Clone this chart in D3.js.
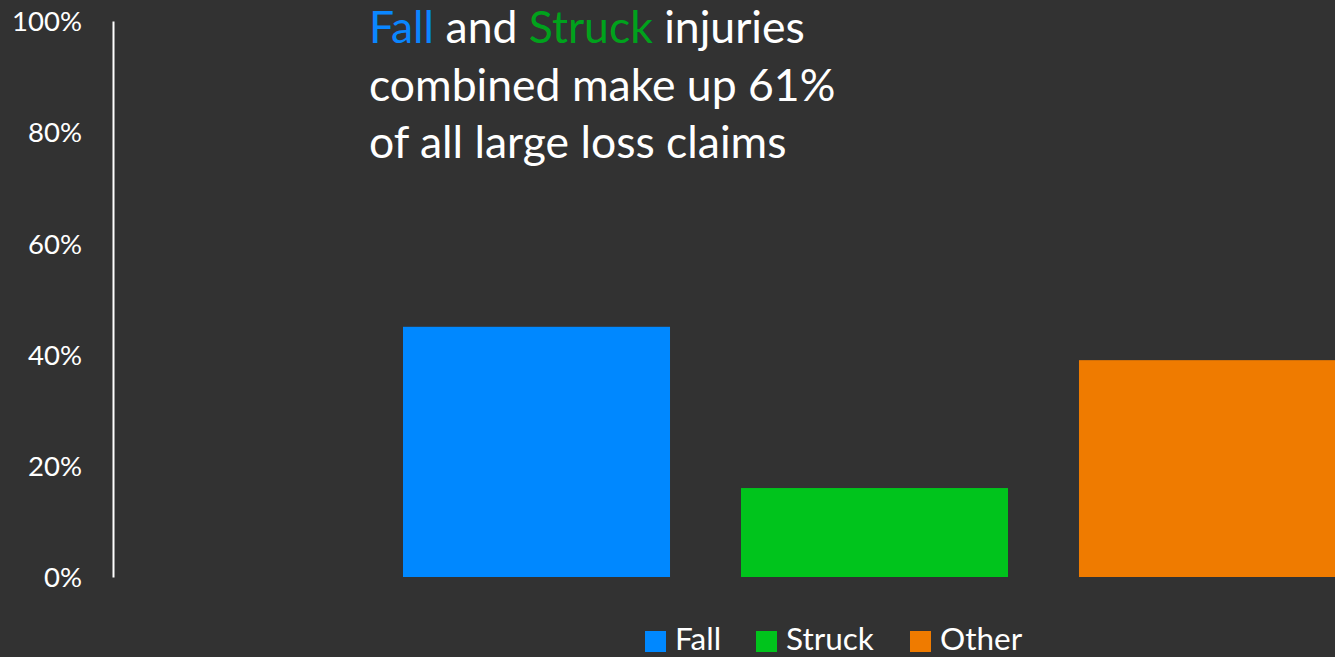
<!DOCTYPE html>
<html><head><meta charset="utf-8">
<script src="https://cdn.jsdelivr.net/npm/d3@7"></script>
<style>html,body{margin:0;padding:0;background:#323232;overflow:hidden}svg{display:block}text{font-family:Lato,"Open Sans",sans-serif}</style>
</head><body>
<svg id="c" width="1335" height="657"></svg>
<script>
const series = ["Fall", "Struck", "Other"];
const values = [45, 16, 39];
const colors = ["#0088ff", "#00c41c", "#ef7b00"];
const tickValues = [0, 20, 40, 60, 80, 100];
const titleLines = [
  [{t:"Fall", c:"#0a86ff"}, {t:" and ", c:"#ffffff"}, {t:"Struck", c:"#00a21c"}, {t:" injuries", c:"#ffffff"}],
  [{t:"combined make up 61%", c:"#ffffff"}],
  [{t:"of all large loss claims", c:"#ffffff"}]
];

const svg = d3.select("#c");
const y = d3.scaleLinear().domain([0, 100]).range([577, 21]);
const x = d3.scaleBand().domain(series).range([403, 1346]).paddingInner(0.21).paddingOuter(0);

// axis
const axis = d3.axisLeft(y).tickValues(tickValues).tickFormat(d => d + "%").tickSize(0).tickPadding(31);
const ga = svg.append("g").attr("transform", "translate(113,0)").call(axis);
ga.select(".domain").attr("stroke", "#ffffff").attr("stroke-width", 2);
ga.selectAll("text").attr("fill", "#ffffff").style("font-size", "27.5px").style("font-family", "Lato").attr("dy", "0.35em");

// bars
svg.append("g").selectAll("rect").data(series).join("rect")
  .attr("x", d => x(d)).attr("width", x.bandwidth())
  .attr("y", (d, i) => y(values[i])).attr("height", (d, i) => y(0) - y(values[i]))
  .attr("fill", (d, i) => colors[i]);

// title
const tg = svg.append("g");
titleLines.forEach((line, li) => {
  const t = tg.append("text").attr("x", 369).attr("y", 43 + li * 57.5).style("font-size", "44.5px");
  line.forEach(s => t.append("tspan").text(s.t).attr("fill", s.c).style("white-space", "pre"));
});
tg.selectAll("text").attr("xml:space", "preserve");

// legend
const lg = svg.append("g");
const legendX = [645, 756, 910];
series.forEach((s, i) => {
  lg.append("rect").attr("x", legendX[i]).attr("y", 631).attr("width", 21).attr("height", 21).attr("fill", colors[i]);
  lg.append("text").attr("x", legendX[i] + 30).attr("y", 650).attr("fill", "#ffffff").style("font-size", "31.5px").text(s);
});
</script>
</body></html>
